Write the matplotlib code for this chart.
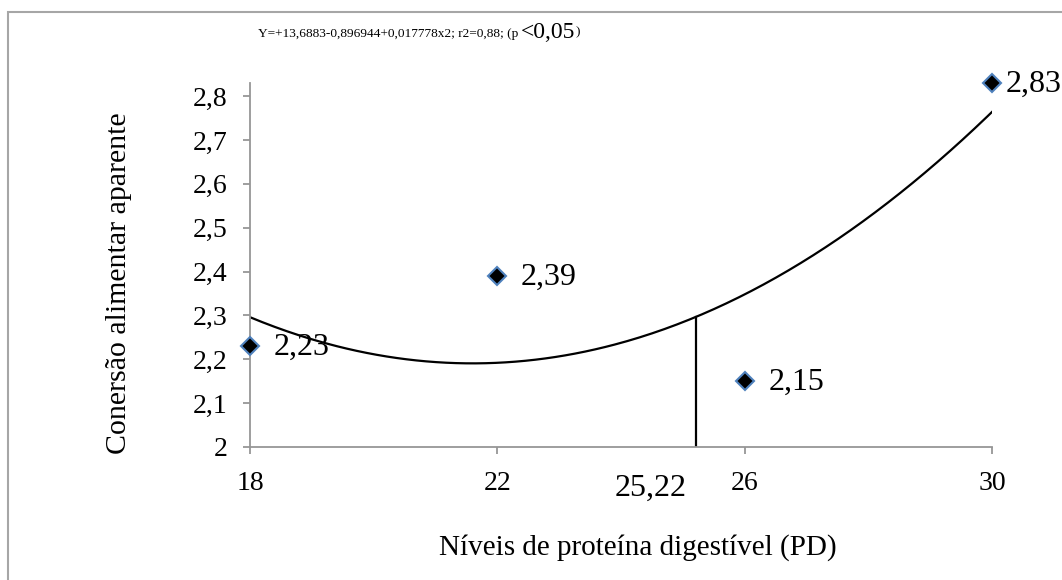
import numpy as np
import matplotlib
matplotlib.use("Agg")
import matplotlib.pyplot as plt
from matplotlib.patches import Rectangle

# dados
niveis = np.array([18, 22, 26, 30])
conversao = np.array([2.23, 2.39, 2.15, 2.83])
rotulos = ["2,23", "2,39", "2,15", "2,83"]
nivel_otimo = 25.22
y_ticks = [2.0, 2.1, 2.2, 2.3, 2.4, 2.5, 2.6, 2.7, 2.8]
y_tick_labels = ["2", "2,1", "2,2", "2,3", "2,4", "2,5", "2,6", "2,7", "2,8"]
x_ticks = [18, 22, 26, 30]

plt.rcParams["font.family"] = ["Liberation Serif", "DejaVu Serif"]

W, H = 1062, 580
fig = plt.figure(figsize=(W / 100, H / 100), dpi=100)
ax = fig.add_axes([250 / W, 1 - 447 / H, 742 / W, 364 / H])

# moldura do gráfico
fig.add_artist(Rectangle((8 / W, -0.1), 1.2, 1.1 - 12 / H, transform=fig.transFigure,
                         fill=False, edgecolor="#A6A6A6", lw=1.5))

# curva de tendência (polinomial de 2a ordem)
coef = np.polyfit(niveis, conversao, 2)
xs = np.linspace(niveis.min(), niveis.max(), 300)
ax.plot(xs, np.polyval(coef, xs), color="black", lw=1.6, zorder=2)

# linha no ponto ótimo
ax.plot([nivel_otimo, nivel_otimo], [2.0, np.polyval(coef, nivel_otimo)],
        color="black", lw=1.6, zorder=2)

ax.plot(niveis, conversao, linestyle="none", marker="D", markersize=9,
        markerfacecolor="black", markeredgecolor="#4F81BD", markeredgewidth=1.5,
        zorder=3, clip_on=False)

# rótulos dos pontos (o último mais perto para caber na figura)
offsets = [17, 17, 17, 10]
for x, y, s, dx in zip(niveis, conversao, rotulos, offsets):
    ax.annotate(s, (x, y), xytext=(dx, -1), textcoords="offset points",
                ha="left", va="center", fontsize=23, annotation_clip=False)

ax.annotate("25,22", (nivel_otimo, 2.0), xytext=(-33, -30), textcoords="offset points",
            ha="center", va="center", fontsize=23, annotation_clip=False)

ax.set_xlim(18, 30)
ax.set_ylim(2.0, 2.83)
ax.set_xticks(x_ticks)
ax.set_xticklabels([str(v) for v in x_ticks])
ax.set_yticks(y_ticks)
ax.set_yticklabels(y_tick_labels)

for lado in ["top", "right"]:
    ax.spines[lado].set_visible(False)
for lado in ["left", "bottom"]:
    ax.spines[lado].set_color("#969696")
    ax.spines[lado].set_linewidth(1.3)
ax.tick_params(axis="both", direction="out", length=5, width=1.3, color="#969696",
               labelsize=20)
ax.tick_params(axis="y", pad=11)
ax.tick_params(axis="x", pad=12)

ax.set_xlabel("Níveis de proteína digestível (PD)", fontsize=21)
ax.set_ylabel("Conersão alimentar aparente", fontsize=21.5)
ax.xaxis.set_label_coords(0.522, -0.277)
ax.xaxis.label.set_va("center")
ax.yaxis.set_label_coords(-0.176, 0.45)
ax.yaxis.label.set_va("center")

# equação
t1 = fig.text(258 / W, 1 - 37 / H, "Y=+13,6883-0,896944+0,017778x2; r2=0,88; (p",
              fontsize=9.6, va="baseline", ha="left")
t2 = ax.annotate("<0,05", xy=(1, 0), xycoords=t1, xytext=(2, -2), textcoords="offset points",
                 ha="left", va="bottom", fontsize=17, annotation_clip=False)
ax.annotate(")", xy=(1, 0), xycoords=t2, xytext=(0, 3), textcoords="offset points",
            ha="left", va="bottom", fontsize=9.6, annotation_clip=False)

fig.savefig("out.png", dpi=100)
